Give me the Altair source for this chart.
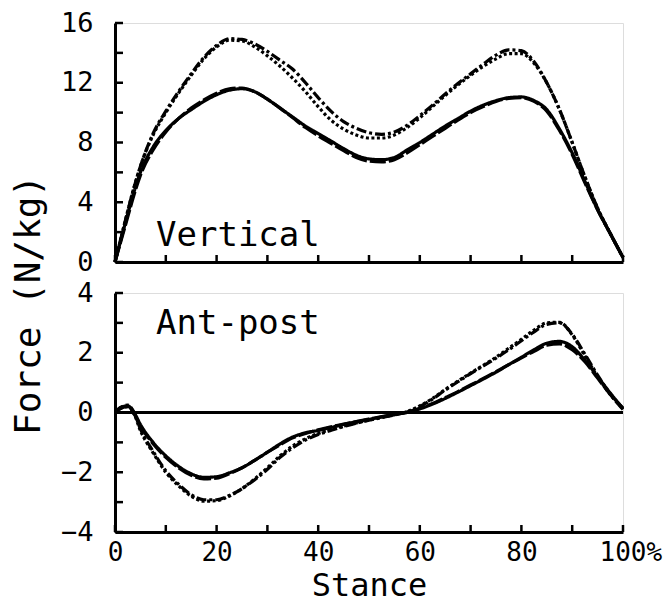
import altair as alt
import pandas as pd

# ---- data ----
stance = [0, 1.25, 2.5, 3.75, 5, 7.5, 10, 12.5, 15, 17.5, 20, 22.5, 25, 27.5, 30, 32.5, 35,
          37.5, 40, 42.5, 45, 47.5, 50, 52.5, 55, 57.5, 60, 62.5, 65, 67.5, 70, 72.5, 75,
          77.5, 80, 82.5, 85, 87.5, 90, 92.5, 95, 97.5, 100]

vert_solid = [0, 1.6, 3.2, 4.7, 6.0, 7.7, 8.8, 9.6, 10.2, 10.75, 11.2, 11.5, 11.6, 11.4, 10.9,
              10.3, 9.7, 9.1, 8.6, 8.1, 7.6, 7.15, 6.9, 6.85, 7.0, 7.5, 8.0, 8.55, 9.1, 9.6,
              10.1, 10.5, 10.8, 11.0, 11.05, 10.8, 10.2, 8.9, 7.3, 5.4, 3.5, 1.9, 0.3]
vert_longdash = [0, 1.5, 3.0, 4.5, 5.8, 7.5, 8.7, 9.6, 10.3, 10.85, 11.3, 11.6, 11.65, 11.4,
                 10.9, 10.3, 9.65, 9.0, 8.45, 7.95, 7.45, 7.0, 6.75, 6.7, 6.85, 7.3, 7.85, 8.4,
                 8.95, 9.5, 10.0, 10.4, 10.75, 10.95, 11.0, 10.75, 10.1, 8.8, 7.2, 5.3, 3.5,
                 1.9, 0.3]
vert_dashdot = [0, 1.7, 3.4, 5.0, 6.4, 8.6, 10.1, 11.4, 12.6, 13.7, 14.5, 14.95, 14.9, 14.6,
                14.1, 13.5, 12.9, 12.0, 11.0, 10.1, 9.4, 8.95, 8.65, 8.55, 8.7, 9.15, 9.8,
                10.5, 11.25, 11.95, 12.6, 13.25, 13.85, 14.2, 14.15, 13.4, 12.0, 10.2, 8.0,
                5.7, 3.6, 1.9, 0.3]
vert_dotted = [0, 1.7, 3.4, 5.0, 6.4, 8.5, 10.0, 11.3, 12.5, 13.6, 14.4, 14.85, 14.8, 14.4,
               13.8, 13.1, 12.3, 11.4, 10.4, 9.5, 8.9, 8.5, 8.3, 8.3, 8.5, 9.0, 9.65, 10.4,
               11.15, 11.85, 12.5, 13.1, 13.6, 13.95, 13.95, 13.3, 12.0, 10.2, 8.0, 5.7, 3.6,
               1.9, 0.3]

ap_solid = [0, 0.18, 0.22, 0.0, -0.4, -1.0, -1.45, -1.8, -2.05, -2.17, -2.15, -2.02, -1.85,
            -1.6, -1.33, -1.05, -0.82, -0.68, -0.6, -0.5, -0.4, -0.31, -0.23, -0.15, -0.07,
            0.0, 0.12, 0.28, 0.47, 0.68, 0.9, 1.12, 1.35, 1.6, 1.85, 2.1, 2.32, 2.38, 2.2,
            1.75, 1.2, 0.65, 0.13]
ap_longdash = [0, 0.15, 0.2, -0.05, -0.45, -1.05, -1.5, -1.85, -2.1, -2.22, -2.2, -2.05,
               -1.85, -1.6, -1.33, -1.08, -0.85, -0.7, -0.58, -0.48, -0.39, -0.3, -0.22,
               -0.14, -0.06, 0.02, 0.14, 0.3, 0.5, 0.7, 0.92, 1.14, 1.37, 1.6, 1.83, 2.05,
               2.25, 2.3, 2.1, 1.7, 1.15, 0.6, 0.1]
ap_dashdot = [0, 0.18, 0.25, 0.0, -0.55, -1.3, -1.95, -2.4, -2.75, -2.92, -2.92, -2.78,
              -2.55, -2.25, -1.9, -1.5, -1.18, -0.92, -0.74, -0.6, -0.47, -0.36, -0.26,
              -0.17, -0.08, 0.02, 0.2, 0.45, 0.75, 1.03, 1.3, 1.56, 1.82, 2.1, 2.4, 2.7,
              2.95, 3.0, 2.62, 1.95, 1.25, 0.62, 0.15]
ap_dotted = [0, 0.15, 0.2, -0.05, -0.6, -1.35, -2.0, -2.45, -2.8, -2.97, -2.95, -2.8, -2.55,
             -2.22, -1.85, -1.45, -1.12, -0.88, -0.7, -0.57, -0.45, -0.35, -0.25, -0.16,
             -0.07, 0.03, 0.22, 0.47, 0.77, 1.05, 1.32, 1.58, 1.85, 2.15, 2.45, 2.76, 3.0,
             3.02, 2.6, 1.9, 1.2, 0.6, 0.13]

series_names = ["solid", "longdash", "dashdot", "dotted"]
panel_labels = ["Vertical", "Ant-post"]
x_title = "Stance"
y_title = "Force (N/kg)"
x_ticks = [0, 10, 20, 30, 40, 50, 60, 70, 80, 90, 100]
x_labels = [0, 20, 40, 60, 80, 100]
vert_ticks = [0, 2, 4, 6, 8, 10, 12, 14, 16]
vert_labels = [0, 4, 8, 12, 16]
ap_ticks = [-4, -3, -2, -1, 0, 1, 2, 3, 4]
ap_labels = [-4, -2, 0, 2, 4]

# ---- styling ----
FONT = "DejaVu Sans Mono"
W, H = 508, 239
LW = 3.2
dash_range = [[1, 0], [16, 3], [10, 3, 3, 3], [3, 2.5]]


def long_df(values_list):
    rows = []
    for name, vals in zip(series_names, values_list):
        for x, y in zip(stance, vals):
            rows.append({"stance": x, "force": y, "series": name})
    return pd.DataFrame(rows)


vert_df = long_df([vert_solid, vert_longdash, vert_dashdot, vert_dotted])
ap_df = long_df([ap_solid, ap_longdash, ap_dashdot, ap_dotted])

xscale = alt.Scale(domain=[0, 100], nice=False, zero=False)


def x_axis(show_labels):
    if show_labels:
        return alt.Axis(values=x_labels, ticks=False, grid=False, domainWidth=3,
                        domainColor="black", labelFont=FONT, labelFontSize=26,
                        labelColor="black", labelPadding=7, labelOverlap=False,
                        labelExpr="datum.value == 100 ? '100%' : datum.label",
                        labelAlign={"condition": {"test": "datum.value == 100", "value": "left"},
                                    "value": "center"},
                        labelOffset={"condition": {"test": "datum.value == 100", "value": -24},
                                     "value": 0},
                        title=x_title, titleFont=FONT, titleFontSize=32,
                        titleFontWeight="normal", titleColor="black", titlePadding=5)
    return alt.Axis(labels=False, ticks=False, grid=False, domainWidth=3,
                    domainColor="black", title=None)


def y_axis(vals):
    return alt.Axis(values=vals, ticks=False, grid=False, domainWidth=3, domainColor="black",
                    labelFont=FONT, labelFontSize=27, labelColor="black", labelPadding=22,
                    title=None)


def panel(df, domain, ticks, labels, text, text_y, show_x, zero_line):
    yscale = alt.Scale(domain=domain, nice=False, zero=False)
    xa = x_axis(show_x)
    ya = y_axis(labels)
    lines = alt.Chart(df).mark_line(strokeWidth=LW, color="black", interpolate="monotone",
                                    strokeCap="butt").encode(
        x=alt.X("stance:Q", scale=xscale, axis=xa),
        y=alt.Y("force:Q", scale=yscale, axis=ya),
        strokeDash=alt.StrokeDash("series:N", scale=alt.Scale(domain=series_names,
                                                              range=dash_range), legend=None),
        detail="series:N",
    )
    xt = alt.Chart(pd.DataFrame({"t": x_ticks})).mark_rule(strokeWidth=2.5, color="black").encode(
        x=alt.X("t:Q", scale=xscale, axis=xa),
        y=alt.value(H), y2=alt.value(H - 7))
    yt = alt.Chart(pd.DataFrame({"t": ticks})).mark_rule(strokeWidth=2.5, color="black").encode(
        y=alt.Y("t:Q", scale=yscale, axis=ya),
        x=alt.value(0), x2=alt.value(8))
    lab = alt.Chart(pd.DataFrame({"label": [text]})).mark_text(
        font=FONT, fontSize=34, align="left", baseline="alphabetic", color="black").encode(
        text="label:N", x=alt.value(41), y=alt.value(text_y))
    layers = [lines, xt, yt, lab]
    if zero_line:
        z = alt.Chart(pd.DataFrame({"z": [0]})).mark_rule(strokeWidth=3, color="black").encode(
            y=alt.Y("z:Q", scale=yscale, axis=ya))
        layers = [z] + layers
    return alt.layer(*layers).properties(width=W, height=H)


top = panel(vert_df, [0, 16], vert_ticks, vert_labels, panel_labels[0], 223, False, False)
bottom = panel(ap_df, [-4, 4], ap_ticks, ap_labels, panel_labels[1], 41, True, True)

chart = alt.vconcat(top, bottom, spacing=31, bounds="flush").properties(
    title=alt.TitleParams(y_title, orient="left", anchor="middle", font=FONT, fontSize=36,
                          fontWeight="normal", color="black", offset=12),
    padding={"left": 2, "top": 0, "right": 0, "bottom": 0},
).configure_view(stroke=None).configure(background="white")

chart.save("out.html", embed_options={"renderer": "svg", "actions": False})
